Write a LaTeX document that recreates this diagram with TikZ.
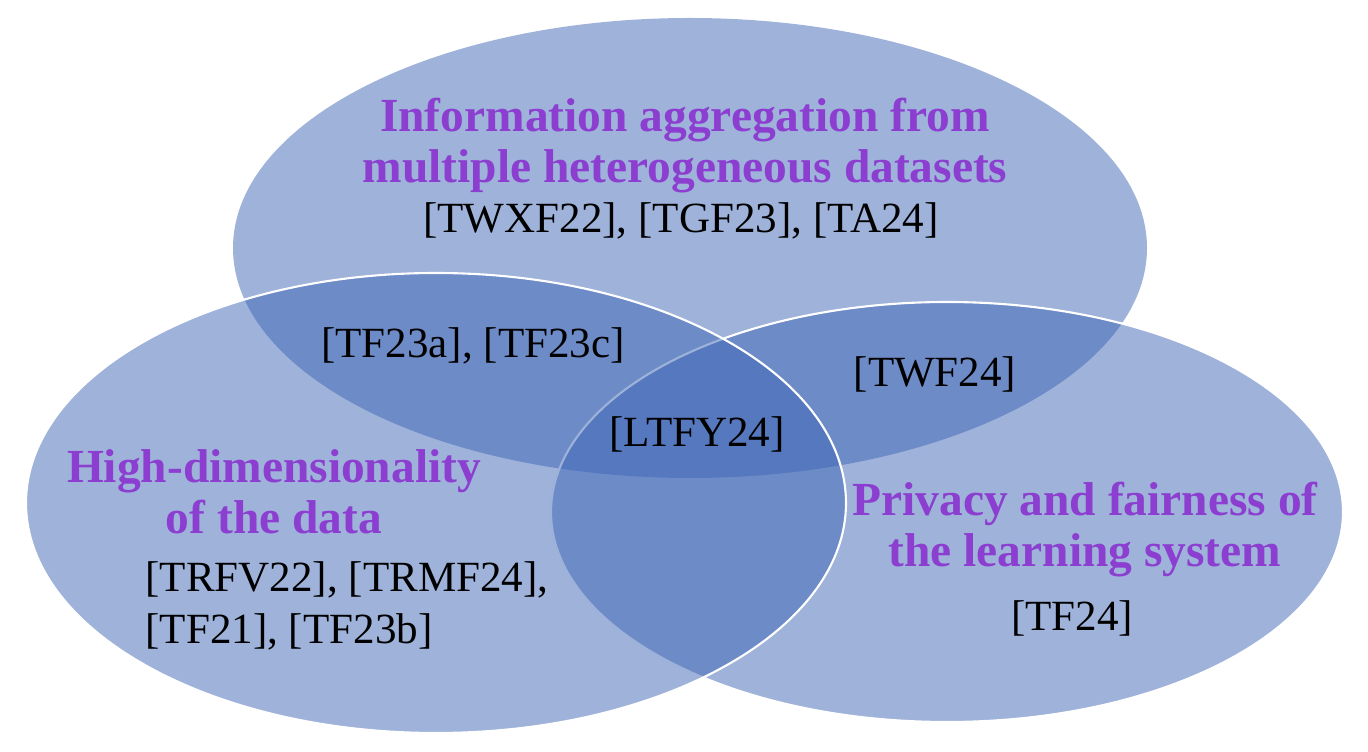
\documentclass[tikz,border=0pt]{standalone}
\usepackage{fontspec}
\setmainfont{Liberation Serif}
\definecolor{vennblue}{RGB}{61,101,181}
\definecolor{vennpurple}{RGB}{140,62,208}
\tikzset{
  venn/.style={fill=vennblue,fill opacity=0.5,draw=white,line width=1.2pt},
  topic/.style={font=\bfseries\fontsize{27}{29}\selectfont,text=vennpurple,align=center,inner sep=0pt},
  cites/.style={font=\fontsize{24.5}{30}\selectfont,align=center,inner sep=0pt}
}
\begin{document}
\begin{tikzpicture}
  \useasboundingbox (0,0) rectangle (27.36,15.04);
  % the three sets
  \fill[venn,draw=none] (13.8,10.08) ellipse [x radius=9.14,y radius=4.6];
  \draw[venn] (18.94,4.8) ellipse [x radius=7.92,y radius=4.2];
  \draw[venn] (8.72,4.98) ellipse [x radius=8.2,y radius=4.6];
  % labels
  \node[topic] (aggT) at (13.7,12.12) {Information aggregation from\\multiple heterogeneous datasets};
  \node[cites] (aggC) at (13.62,10.63) {[TWXF22], [TGF23], [TA24]};
  \node[cites] (aggdim) at (9.46,8.13) {[TF23a], [TF23c]};
  \node[cites] (aggpriv) at (18.7,7.56) {[TWF24]};
  \node[cites] (all) at (13.94,6.36) {[LTFY24]};
  \node[topic] (dimT) at (5.48,5.2) {High-dimensionality\\of the data};
  \node[cites,align=left] (dimC) at (6.94,2.92) {[TRFV22], [TRMF24],\\{}[TF21], [TF23b]};
  \node[topic] (privT) at (21.7,4.44) {Privacy and fairness of\\the learning system};
  \node[cites] (privC) at (21.44,2.68) {[TF24]};
\end{tikzpicture}
\end{document}
